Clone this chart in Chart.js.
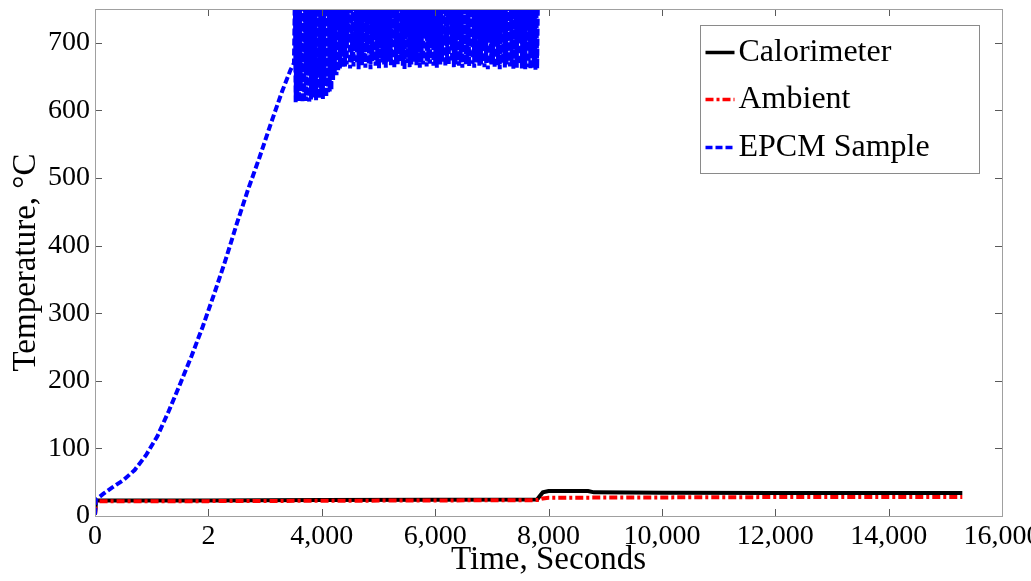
<!DOCTYPE html>
<html>
<head>
<meta charset="utf-8">
<title>Temperature vs Time</title>
<script src="https://cdn.jsdelivr.net/npm/chart.js@4.4.1/dist/chart.umd.min.js"></script>
<style>
  html, body { margin: 0; padding: 0; background: #fff; overflow: hidden; }
  #tempChart { display: block; }
</style>
</head>
<body>
<canvas id="tempChart" width="1031" height="581"></canvas>
<script>
// Calorimeter thermocouple, seconds / °C
const calTimes = [0, 20, 2000, 4000, 6000, 7800, 7850, 7900, 8000, 8700, 8800, 10000, 12000, 14000, 15300];
const calTemps = [2, 23, 23, 23.5, 24, 24.5, 30, 35, 37, 37, 35, 34.5, 34, 34, 34];

// Ambient air
const ambTimes = [0, 20, 2000, 4000, 6000, 7800, 7900, 8000, 10000, 12000, 14000, 15300];
const ambTemps = [2, 22, 22, 22.5, 23, 23.5, 26, 27, 27.5, 28, 28, 28];

// EPCM sample, heat-up ramp
const rampTimes = [0, 15, 150, 300, 500, 700, 900, 1100, 1300, 1500, 1700, 1900, 2100, 2300, 2500, 2700, 2900, 3100, 3300, 3450, 3510];
const rampTemps = [2, 24, 33, 42, 53, 68, 90, 118, 155, 195, 236, 280, 328, 378, 432, 483, 530, 580, 628, 660, 670];

// EPCM sample, noisy reading once the thermocouple saturates (above 750 is off scale)
const cycleTimes = [
  3525, 3540, 3555, 3570, 3585, 3600, 3615, 3630, 3645, 3660, 3675, 3690, 3705, 3720, 3735, 3750, 3765, 3780, 3795, 3810,
  3825, 3840, 3855, 3870, 3885, 3900, 3915, 3930, 3945, 3960, 3975, 3990, 4005, 4020, 4035, 4050, 4065, 4080, 4095, 4110,
  4125, 4140, 4155, 4170, 4185, 4200, 4215, 4230, 4245, 4260, 4275, 4290, 4305, 4320, 4335, 4350, 4365, 4380, 4395, 4410,
  4425, 4440, 4455, 4470, 4485, 4500, 4515, 4530, 4545, 4560, 4575, 4590, 4605, 4620, 4635, 4650, 4665, 4680, 4695, 4710,
  4725, 4740, 4755, 4770, 4785, 4800, 4815, 4830, 4845, 4860, 4875, 4890, 4905, 4920, 4935, 4950, 4965, 4980, 4995, 5010,
  5025, 5040, 5055, 5070, 5085, 5100, 5115, 5130, 5145, 5160, 5175, 5190, 5205, 5220, 5235, 5250, 5265, 5280, 5295, 5310,
  5325, 5340, 5355, 5370, 5385, 5400, 5415, 5430, 5445, 5460, 5475, 5490, 5505, 5520, 5535, 5550, 5565, 5580, 5595, 5610,
  5625, 5640, 5655, 5670, 5685, 5700, 5715, 5730, 5745, 5760, 5775, 5790, 5805, 5820, 5835, 5850, 5865, 5880, 5895, 5910,
  5925, 5940, 5955, 5970, 5985, 6000, 6015, 6030, 6045, 6060, 6075, 6090, 6105, 6120, 6135, 6150, 6165, 6180, 6195, 6210,
  6225, 6240, 6255, 6270, 6285, 6300, 6315, 6330, 6345, 6360, 6375, 6390, 6405, 6420, 6435, 6450, 6465, 6480, 6495, 6510,
  6525, 6540, 6555, 6570, 6585, 6600, 6615, 6630, 6645, 6660, 6675, 6690, 6705, 6720, 6735, 6750, 6765, 6780, 6795, 6810,
  6825, 6840, 6855, 6870, 6885, 6900, 6915, 6930, 6945, 6960, 6975, 6990, 7005, 7020, 7035, 7050, 7065, 7080, 7095, 7110,
  7125, 7140, 7155, 7170, 7185, 7200, 7215, 7230, 7245, 7260, 7275, 7290, 7305, 7320, 7335, 7350, 7365, 7380, 7395, 7410,
  7425, 7440, 7455, 7470, 7485, 7500, 7515, 7530, 7545, 7560, 7575, 7590, 7605, 7620, 7635, 7650, 7665, 7680, 7695, 7710,
  7725, 7740, 7755, 7770, 7785, 7800, 7815
];
const cycleTemps = [
  770, 612, 760, 615, 780, 613, 765, 640, 775, 612, 760, 618, 785, 614, 770, 655, 765, 613, 780, 616,
  770, 619, 765, 622, 780, 615, 760, 650, 775, 618, 770, 621, 765, 617, 785, 640, 760, 620, 775, 627,
  770, 628, 765, 630, 780, 645, 760, 656, 775, 652, 770, 658, 765, 662, 780, 690, 770, 664, 760, 665,
  775, 668, 770, 700, 780, 662, 765, 671, 770, 665, 760, 690, 785, 669, 770, 661, 765, 705, 775, 667,
  770, 672, 760, 663, 780, 695, 770, 668, 765, 661, 775, 673, 770, 710, 760, 666, 780, 670, 765, 662,
  775, 700, 770, 671, 765, 668, 780, 663, 760, 690, 775, 672, 770, 667, 765, 705, 780, 662, 770, 671,
  765, 668, 775, 695, 760, 673, 780, 666, 770, 661, 765, 710, 775, 670, 770, 664, 780, 668, 760, 700,
  770, 672, 765, 667, 780, 690, 770, 663, 775, 671, 760, 668, 765, 715, 780, 665, 770, 672, 775, 669,
  765, 700, 780, 666, 770, 671, 760, 663, 775, 690, 770, 668, 765, 672, 780, 705, 770, 665, 760, 670,
  775, 667, 770, 695, 765, 672, 780, 664, 770, 668, 760, 710, 775, 666, 770, 671, 765, 663, 780, 690,
  770, 668, 765, 672, 775, 665, 760, 700, 780, 669, 770, 663, 765, 671, 775, 715, 770, 666, 760, 668,
  780, 690, 770, 664, 765, 670, 775, 661, 770, 705, 760, 668, 780, 672, 770, 663, 765, 695, 775, 667,
  770, 661, 765, 700, 780, 670, 770, 662, 760, 668, 775, 710, 770, 665, 765, 671, 780, 661, 770, 690,
  760, 663, 775, 668, 770, 705, 765, 662, 780, 670, 770, 661, 765, 695, 775, 664, 770, 661, 760, 685,
  780, 663, 770, 660, 765, 662, 775
];

const timeTickLabels = ['0', '2', '4,000', '6,000', '8,000', '10,000', '12,000', '14,000', '16,000'];
const seriesNames = ['Calorimeter', 'Ambient', 'EPCM Sample'];

const serif = "'Liberation Serif', 'Times New Roman', serif";

function toPoints(xs, ys) {
  return xs.map((t, i) => ({ x: t, y: ys[i] }));
}

const sampleTimes = rampTimes.concat(cycleTimes);
const sampleTemps = rampTemps.concat(cycleTemps);

// box round the plot with inward tick marks, plus the legend inside
const boxAxes = {
  id: 'boxAxes',
  afterDatasetsDraw(chart) {
    const { ctx, chartArea: a, scales } = chart;
    const xs = scales.x, ys = scales.y;
    ctx.save();
    ctx.strokeStyle = '#5a5a5a';
    ctx.lineWidth = 1;
    ctx.beginPath();
    xs.ticks.forEach(t => {
      const px = Math.round(xs.getPixelForValue(t.value)) + 0.5;
      ctx.moveTo(px, a.bottom); ctx.lineTo(px, a.bottom - 7);
      ctx.moveTo(px, a.top); ctx.lineTo(px, a.top + 7);
    });
    ys.ticks.forEach(t => {
      const py = Math.round(ys.getPixelForValue(t.value)) + 0.5;
      ctx.moveTo(a.left, py); ctx.lineTo(a.left + 7, py);
      ctx.moveTo(a.right, py); ctx.lineTo(a.right - 7, py);
    });
    ctx.stroke();
    ctx.strokeStyle = '#a0a0a0';
    ctx.strokeRect(Math.round(a.left) + 0.5, Math.round(a.top) + 0.5,
      Math.round(a.width), Math.round(a.height));
    ctx.restore();
  },
  afterDraw(chart) {
    const { ctx, chartArea: a } = chart;
    const w = 279, h = 148;
    const left = Math.round(a.right - 23 - w) + 0.5;
    const top = Math.round(a.top + 16) + 0.5;
    ctx.save();
    ctx.fillStyle = '#fff';
    ctx.fillRect(left, top, w, h);
    ctx.strokeStyle = '#8a8a8a';
    ctx.lineWidth = 1;
    ctx.strokeRect(left, top, w, h);
    const rows = [27, 74, 122];
    const byName = {};
    chart.data.datasets.forEach(ds => { byName[ds.label] = ds; });
    seriesNames.forEach((name, i) => {
      const ds = byName[name];
      const y = top + rows[i];
      ctx.strokeStyle = ds.borderColor;
      ctx.lineWidth = 3.5;
      ctx.setLineDash(ds.borderDash || []);
      ctx.beginPath();
      ctx.moveTo(left + 5, y);
      ctx.lineTo(left + 34, y);
      ctx.stroke();
      ctx.setLineDash([]);
      ctx.fillStyle = '#000';
      ctx.font = '32px ' + serif;
      ctx.textBaseline = 'middle';
      ctx.textAlign = 'left';
      ctx.fillText(name, left + 38, y);
    });
    ctx.restore();
  }
};

const ctx = document.getElementById('tempChart');
new Chart(ctx, {
  type: 'line',
  data: {
    datasets: [
      {
        label: seriesNames[0],
        data: toPoints(calTimes, calTemps),
        borderColor: '#000000',
        borderWidth: 4,
        order: 2
      },
      {
        label: seriesNames[1],
        data: toPoints(ambTimes, ambTemps),
        borderColor: '#ff0000',
        borderWidth: 4,
        borderDash: [8, 3, 3, 3],
        order: 1
      },
      {
        label: seriesNames[2],
        data: toPoints(sampleTimes, sampleTemps),
        borderColor: '#0000ff',
        borderWidth: 4,
        borderDash: [7, 3],
        order: 0
      }
    ]
  },
  plugins: [boxAxes],
  options: {
    responsive: false,
    animation: false,
    devicePixelRatio: 1,
    elements: {
      point: { radius: 0 },
      line: { tension: 0, fill: false }
    },
    layout: {
      padding: { left: 0, right: 29, top: 9, bottom: 0 }
    },
    plugins: {
      legend: { display: false },
      tooltip: { enabled: false }
    },
    scales: {
      x: {
        type: 'linear',
        min: 0,
        max: 16000,
        grid: { display: false, drawTicks: false },
        border: { display: false },
        ticks: {
          stepSize: 2000,
          autoSkip: false,
          maxRotation: 0,
          padding: 4,
          color: '#000',
          font: { family: serif, size: 28 },
          callback: (v, i) => timeTickLabels[i]
        },
        title: {
          display: true,
          text: 'Time, Seconds',
          color: '#000',
          font: { family: serif, size: 33 },
          padding: { top: 0, bottom: 1 }
        },
        afterFit(scale) {
          scale.height = 65;
          scale.paddingLeft = 0;
          scale.paddingRight = 0;
        }
      },
      y: {
        type: 'linear',
        min: 0,
        max: 750,
        grid: { display: false, drawTicks: false },
        border: { display: false },
        ticks: {
          stepSize: 100,
          padding: 5,
          color: '#000',
          font: { family: serif, size: 28 }
        },
        afterBuildTicks(scale) {
          scale.ticks = scale.ticks.filter(t => t.value % 100 === 0);
        },
        title: {
          display: true,
          text: 'Temperature, °C',
          color: '#000',
          font: { family: serif, size: 33 },
          padding: { top: 7, bottom: 0 }
        },
        afterFit(scale) {
          scale.width = 95;
          scale.paddingTop = 0;
          scale.paddingBottom = 0;
        }
      }
    }
  }
});
</script>
</body>
</html>
